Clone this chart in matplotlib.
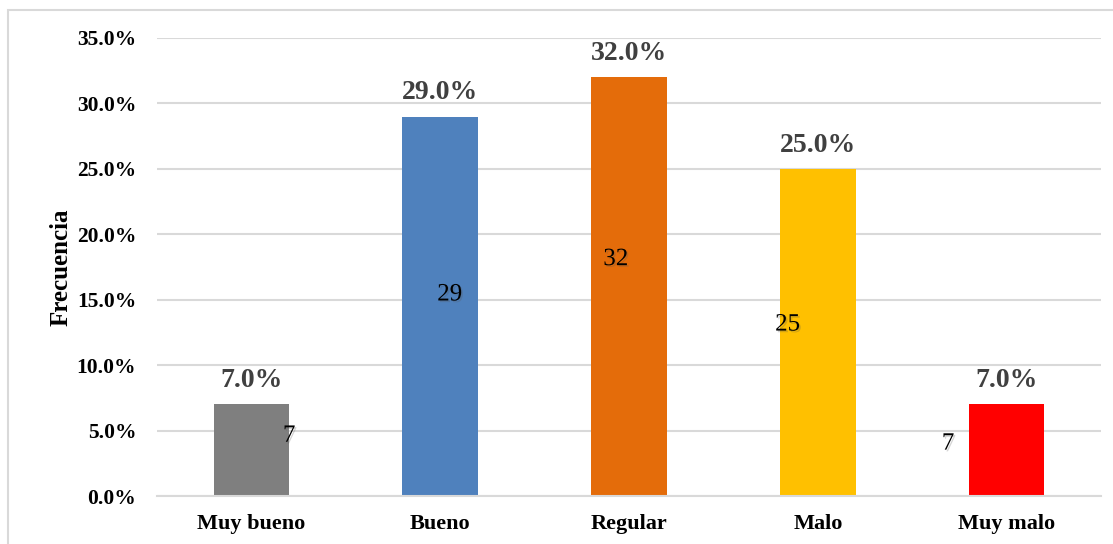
import matplotlib
matplotlib.use('Agg')
import matplotlib.pyplot as plt
import matplotlib.patheffects as pe
from matplotlib.patches import Rectangle
from matplotlib.ticker import PercentFormatter, MultipleLocator

categories = ['Muy bueno', 'Bueno', 'Regular', 'Malo', 'Muy malo']
percentages = [0.07, 0.29, 0.32, 0.25, 0.07]
counts = [7, 29, 32, 25, 7]
bar_colors = ['#7f7f7f', '#4f81bd', '#e46c0a', '#ffc000', '#ff0000']

# where each count label sits: (x shift in category units, y in axis fraction units)
count_label_pos = [(0.20, 0.046), (0.05, 0.154), (-0.07, 0.181), (-0.16, 0.131), (-0.31, 0.040)]

plt.rcParams['font.family'] = ['Liberation Serif', 'DejaVu Serif']

fig = plt.figure(figsize=(11.13, 5.44), dpi=100)
ax = fig.add_axes([157 / 1113, 48 / 544, 944 / 1113, 458 / 544])

x = list(range(len(categories)))
bars = ax.bar(x, percentages, width=0.40, color=bar_colors, zorder=2)

# percentage labels above bars
for rect, p in zip(bars, percentages):
    ax.annotate(f'{p * 100:.1f}%', (rect.get_x() + rect.get_width() / 2, rect.get_height()),
                xytext=(0, 8), textcoords='offset points', ha='center', va='bottom',
                fontsize=20, fontweight='bold', color='#404040')

# raw counts with a soft shadow
shadow = [pe.withSimplePatchShadow(offset=(1.2, -1.2), shadow_rgbFace='#555555', alpha=0.25)]
for xi, c, (dx, y) in zip(x, counts, count_label_pos):
    ax.text(xi + dx, y, str(c), ha='center', va='center', fontsize=18,
            color='black', zorder=3, path_effects=shadow)

ax.set_xlim(-0.5, len(categories) - 0.5)
ax.set_ylim(0, 0.35)
ax.yaxis.set_major_locator(MultipleLocator(0.05))
ax.yaxis.set_major_formatter(PercentFormatter(1.0, decimals=1))
ax.set_xticks(x)
ax.set_xticklabels(categories)

ax.grid(axis='y', color='#d9d9d9', linewidth=1.5, zorder=0)
ax.set_axisbelow(True)
for side in ['top', 'right', 'left']:
    ax.spines[side].set_visible(False)
ax.spines['bottom'].set_color('#d9d9d9')
ax.spines['bottom'].set_linewidth(1.5)

ax.tick_params(axis='y', length=0, pad=15, labelsize=15.5)
ax.tick_params(axis='x', length=0, pad=13, labelsize=16)
for lbl in ax.get_xticklabels() + ax.get_yticklabels():
    lbl.set_fontweight('bold')

ax.set_ylabel('Frecuencia', fontsize=18, fontweight='bold')
ax.yaxis.set_label_coords(-0.0895, 0.5)

# chart area outline
fig.patches.append(Rectangle((8 / 1113, -0.05), 1.2, (534 / 544) + 0.05, transform=fig.transFigure,
                             fill=False, edgecolor='#d9d9d9', linewidth=1.5))

fig.savefig('out.png', dpi=100)
